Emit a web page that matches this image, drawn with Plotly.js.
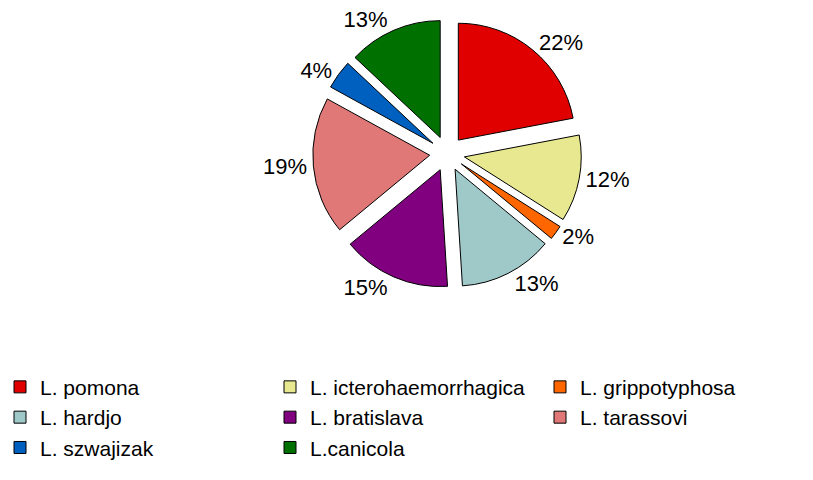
<!DOCTYPE html>
<html>
<head>
<meta charset="utf-8">
<script src="https://cdn.plot.ly/plotly-3.0.1.min.js"></script>
<style>html,body{margin:0;padding:0;background:#fff;}#chart{width:813px;height:480px;}</style>
</head>
<body>
<div id="chart"></div>
<script>
var categories = ["L. pomona", "L. icterohaemorrhagica", "L. grippotyphosa", "L. hardjo", "L. bratislava", "L. tarassovi", "L. szwajizak", "L.canicola"];
var percentages = [22, 12, 2, 13, 15, 19, 4, 13];
var sliceColors = ["#E00000", "#E8E890", "#FF6600", "#9FC8C8", "#800080", "#E07878", "#0060C0", "#007000"];

var trace = {
  type: "pie",
  labels: categories,
  values: percentages,
  sort: false,
  direction: "clockwise",
  rotation: 0,
  pull: 0.15,
  marker: {colors: sliceColors, line: {color: "#000000", width: 1}},
  texttemplate: "%{value}%",
  textposition: "outside",
  textfont: {family: "Liberation Sans, Arial, sans-serif", size: 22, color: "#000000"},
  hoverinfo: "label+value",
  domain: {x: [0.1, 1.0], y: [0.4, 0.96]}
};

var layout = {
  width: 813,
  height: 480,
  margin: {l: 0, r: 0, t: 0, b: 0},
  paper_bgcolor: "#ffffff",
  font: {family: "Liberation Sans, Arial, sans-serif", color: "#000000"},
  showlegend: true,
  legend: {
    orientation: "h",
    x: 0,
    xanchor: "left",
    y: 0.236,
    yanchor: "top",
    entrywidth: 225,
    entrywidthmode: "pixels",
    font: {size: 21, color: "#000000"},
    traceorder: "normal"
  }
};

Plotly.newPlot("chart", [trace], layout, {displayModeBar: false, staticPlot: true});
</script>
</body>
</html>
